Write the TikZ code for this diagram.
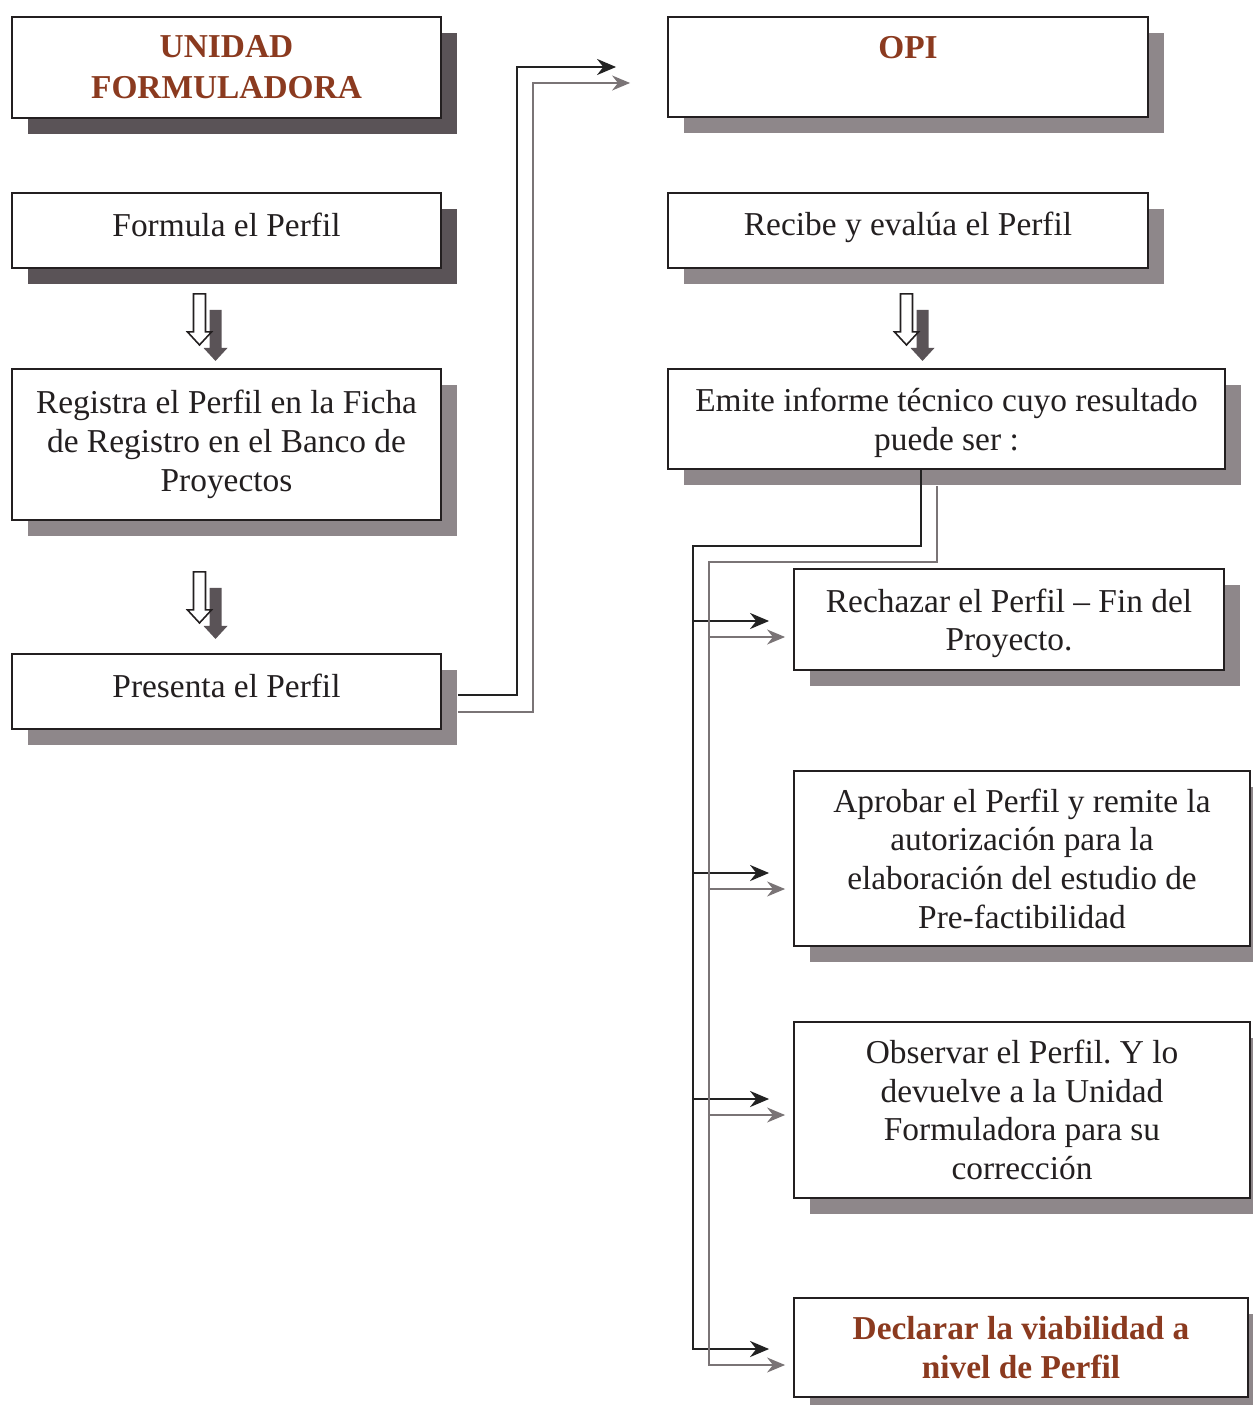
\documentclass[tikz,border=0pt]{standalone}
\usepackage{fontspec}
\setmainfont{Liberation Serif}
\usetikzlibrary{calc,shadows,arrows.meta}
\definecolor{ink}{HTML}{231F20}
\definecolor{brick}{HTML}{8B3A1F}
\definecolor{shade}{HTML}{8E878A}
\definecolor{shadedark}{HTML}{5A5357}
\definecolor{wire}{HTML}{222222}
\definecolor{wirelight}{HTML}{7A7476}
\frenchspacing
% shift a line of text vertically without changing its reported size
\newcommand{\nudge}[2]{\raisebox{#1}[\height][\depth]{#2}}
\begin{document}
\begin{tikzpicture}[x=0.02cm,y=-0.02cm,
  basebox/.style={draw=ink, line width=1.1pt, fill=white, align=center, text=ink,
    font=\fontsize{19}{22}\selectfont, inner sep=0pt},
  box/.style={basebox, general shadow={fill=shade, shadow xshift=0.32cm, shadow yshift=-0.32cm}},
  darkbox/.style={basebox, general shadow={fill=shadedark, shadow xshift=0.32cm, shadow yshift=-0.32cm}},
  title/.style={text=brick, font=\fontsize{19}{22}\selectfont\bfseries},
  dk/.style={draw=wire, line width=1.4pt},
  lt/.style={draw=wirelight, line width=0.85pt},
  dkarrow/.style={dk, -{Stealth[length=0.38cm,width=0.32cm]}},
  ltarrow/.style={lt, -{Stealth[length=0.36cm,width=0.3cm]}},
  downarrow/.pic={
    \fill[shadedark] (16,16) ++(-6,0) -- ++(12,0) -- ++(0,38) -- ++(6,0)
      -- ++(-12,13) -- ++(-12,-13) -- ++(6,0) -- cycle;
    \draw[ink, line width=0.9pt, fill=white] (-6,0) -- (6,0) -- (6,38) -- (12,38)
      -- (0,51) -- (-12,38) -- (-6,38) -- cycle;
  }
]
\useasboundingbox (0,0) rectangle (1253,1405);

% Unidad Formuladora column
\node[darkbox, minimum width=8.58cm, minimum height=2.02cm, title] (b1) at (226.5,67.5)
  {UNIDAD\\[0.05cm]FORMULADORA};
\node[darkbox, minimum width=8.58cm, minimum height=1.5cm] (b2) at (226.5,230.5)
  {\nudge{0.12cm}{Formula el Perfil}};
\node[box, minimum width=8.58cm, minimum height=3.02cm] (b3) at (226.5,444.5)
  {Registra el Perfil en la Ficha\\de Registro en el Banco de\\Proyectos};
\node[box, minimum width=8.58cm, minimum height=1.5cm] (b4) at (226.5,691.5)
  {\nudge{0.12cm}{Presenta el Perfil}};

% OPI column
\node[box, minimum width=9.6cm, minimum height=2.0cm, title] (b5) at (908,67)
  {OPI\\\mbox{}};
\node[box, minimum width=9.6cm, minimum height=1.5cm] (b6) at (908,230.5)
  {\nudge{0.06cm}{Recibe y evalúa el Perfil}};
\node[box, minimum width=11.14cm, minimum height=2.0cm] (b7) at (946.5,419)
  {\nudge{-0.08cm}{Emite informe técnico cuyo resultado}\\\nudge{-0.08cm}{puede ser :}};
\node[box, minimum width=8.6cm, minimum height=2.02cm] (b8) at (1009,619.5)
  {\nudge{-0.08cm}{Rechazar el Perfil -- Fin del}\\\nudge{-0.08cm}{Proyecto.}};
\node[box, minimum width=9.12cm, minimum height=3.5cm] (b9) at (1022,858.5)
  {Aprobar el Perfil y remite la\\autorización para la\\elaboración del estudio de\\Pre-factibilidad};
\node[box, minimum width=9.12cm, minimum height=3.52cm] (b10) at (1022,1110)
  {Observar el Perfil. Y lo\\devuelve a la Unidad\\Formuladora para su\\corrección};
\node[box, minimum width=9.08cm, minimum height=1.98cm, title] (b11) at (1021,1347.5)
  {Declarar la viabilidad a\\nivel de Perfil};

% hollow block arrows with their offset shadows
\pic at ($(b2.south)+(-27,25)$) {downarrow};
\pic at ($(b3.south)+(-27,51)$) {downarrow};
\pic at ($(b6.south)+(-1.5,25)$) {downarrow};

% Presenta el Perfil -> OPI (double line)
\coordinate (pd) at ($(b4.east)+(16,3.5)$);
\coordinate (pl) at ($(b4.east)+(16,20.5)$);
\coordinate (od) at ($(b5.west)+(-51,0)$);
\coordinate (ol) at ($(b5.west)+(-37,16)$);
\draw[dkarrow] (pd) -- ++(59,0) |- (od);
\draw[ltarrow] (pl) -- ++(75,0) |- (ol);

% Emite informe -> the four outcomes
\coordinate (ed) at ($(b7.south)+(-25.5,0)$);
\coordinate (el) at ($(b7.south)+(-9.5,16)$);
\coordinate (r8d) at ($(b8.west)+(-24,1.5)$);
\coordinate (r8l) at ($(b8.west)+(-8,17.5)$);
\coordinate (r9d) at ($(b9.west)+(-24,14.5)$);
\coordinate (r9l) at ($(b9.west)+(-8,30.5)$);
\coordinate (r10d) at ($(b10.west)+(-24,-11)$);
\coordinate (r10l) at ($(b10.west)+(-8,5)$);
\coordinate (r11d) at ($(b11.west)+(-24,1.5)$);
\coordinate (r11l) at ($(b11.west)+(-8,17.5)$);
\coordinate (td) at ($(ed)+(-228,76)$);
\coordinate (tl) at ($(el)+(-228,76)$);

\draw[dkarrow] (ed) |- (td) |- (r11d);
\draw[dkarrow] (r8d -| td) -- (r8d);
\draw[dkarrow] (r9d -| td) -- (r9d);
\draw[dkarrow] (r10d -| td) -- (r10d);
\draw[ltarrow] (el) |- (tl) |- (r11l);
\draw[ltarrow] (r8l -| tl) -- (r8l);
\draw[ltarrow] (r9l -| tl) -- (r9l);
\draw[ltarrow] (r10l -| tl) -- (r10l);
\end{tikzpicture}
\end{document}
